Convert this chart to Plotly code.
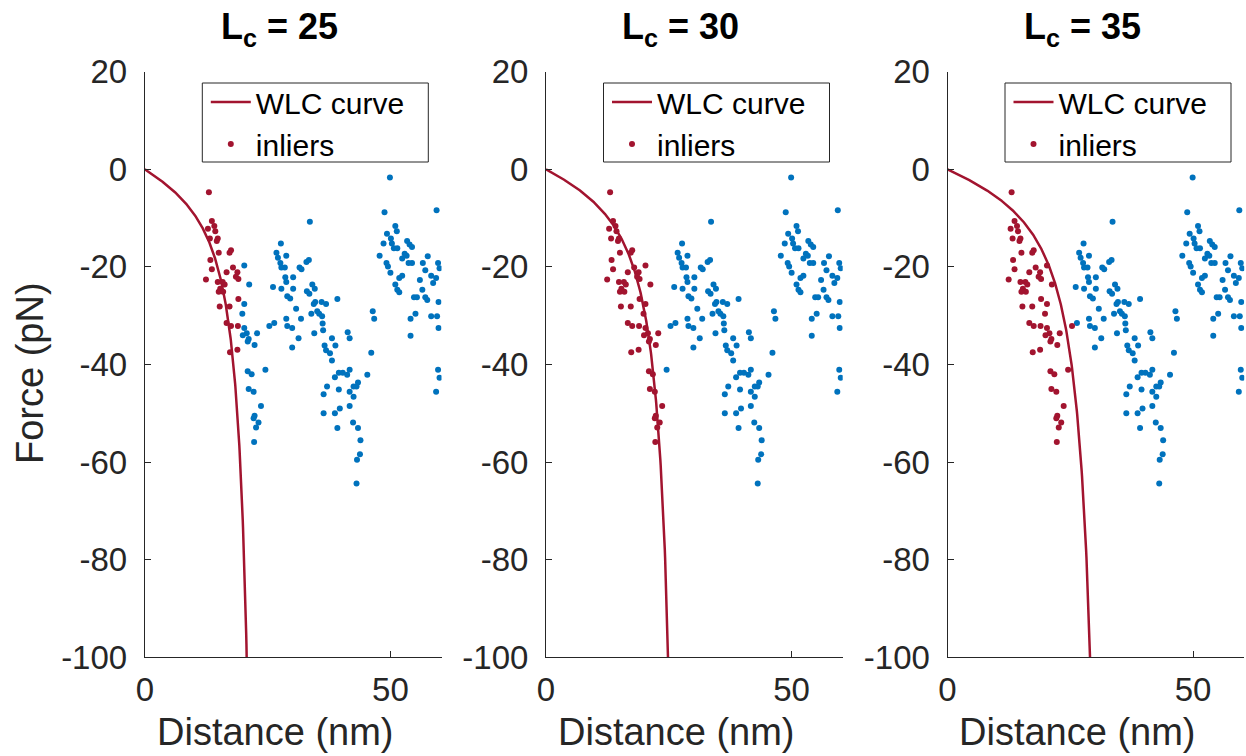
import numpy as np
import plotly.graph_objects as go

# ---------------- data ----------------
contour_lengths = [25, 30, 35]          # L_c per panel (nm)
inlier_cutoff = [19.5, 24.2, 25.7]      # distance below which points are inliers, per panel
persistence_length = 0.38               # nm (WLC model parameter)
kT = 4.11                               # pN nm

dist = [
    13.05, 13.65, 14.15, 12.85, 14.35, 13.25, 14.85, 14.65, 15.05, 17.25, 17.55, 13.35,
    20.25, 17.95, 13.65, 16.65, 18.85, 18.55, 19.05, 12.45, 14.85, 15.85, 16.25, 21.25,
    15.35, 15.05, 15.95, 19.05, 20.25, 15.25, 17.25, 19.85, 16.65, 17.55, 18.95, 25.35,
    20.25, 20.75, 22.85, 19.95, 21.15, 20.95, 22.35, 18.85, 17.35, 24.55, 20.95, 21.75,
    21.15, 22.15, 23.65, 22.35, 22.15, 23.15, 22.65, 22.25,
    26.1, 26.35, 26.8, 27.1, 27.6, 27.8, 28.5, 27.7, 27.8,
    33.6, 28.8, 32.9, 33.4, 31.5, 31.9, 28.6, 30.2, 28.8, 30.2, 34.1, 34.6, 33.0, 33.5,
    29.0, 29.6, 34.4, 34.7, 36.0, 36.9, 39.2, 30.8, 35.1, 35.5, 36.1, 33.9, 28.8, 31.8,
    36.2, 29.0, 30.0, 36.3, 41.3,
    31.3, 30.0, 34.5, 38.1, 41.7, 36.6, 36.9, 37.7, 38.8, 38.1, 38.7, 39.5, 40.3, 41.2,
    41.7, 43.4, 42.5, 43.1, 37.1, 36.4, 39.5, 41.7, 42.5, 39.7, 38.7, 36.4, 41.7, 39.2,
    42.4, 43.4, 43.9, 43.8, 43.2, 43.1,
    54.1, 46.1, 45.3, 59.7, 60.0, 59.3,
    49.9, 48.8, 59.4, 51.0, 51.3, 49.3, 50.1, 50.3, 48.6, 50.7, 51.4, 53.4, 53.9, 54.4,
    52.9, 53.3, 52.4, 47.8, 57.6, 49.2, 49.5, 53.7, 54.4, 56.6, 59.7, 60.0, 57.1, 50.0,
    52.4, 51.8, 58.3, 59.3, 58.7, 56.0, 51.0, 51.4, 51.8, 56.5, 54.8, 55.4, 57.1, 57.5,
    59.8, 46.4, 46.7, 55.1, 54.1, 58.3, 59.5, 59.8,
]
force = [
    -4.7, -10.6, -11.6, -12.2, -12.7, -14.2, -14.2, -14.7, -17.1, -17.1, -16.6, -18.6,
    -19.7, -20.1, -20.5, -21.1, -21.1, -22.0, -22.5, -22.6, -23.1, -23.1, -23.6, -23.6,
    -24.5, -25.1, -25.1, -26.6, -27.6, -28.1, -28.1, -29.6, -31.5, -32.1, -32.1, -32.1,
    -32.5, -33.6, -33.6, -34.0, -34.8, -35.3, -36.0, -37.0, -37.5, -41.1, -41.4, -42.0,
    -45.0, -45.6, -48.5, -50.5, -51.0, -51.9, -52.9, -55.9,
    -24.1, -31.5, -17.1, -18.1, -19.2, -20.1, -20.1, -15.2, -24.5,
    -10.75, -17.7, -19.0, -18.6, -20.1, -20.5, -22.1, -22.1, -23.1, -24.5, -23.6, -24.5, -25.0, -25.5,
    -26.0, -26.5, -27.6, -27.2, -27.2, -27.6, -26.6, -28.6, -29.1, -29.6, -30.1, -29.6, -30.6, -30.6,
    -31.6, -32.1, -32.5, -33.0, -33.4,
    -34.6, -36.5, -33.6, -34.6, -34.6, -36.1, -37.1, -37.7, -36.1, -39.2, -42.6, -41.7, -41.7, -42.1,
    -41.1, -43.7, -44.5, -44.5, -44.5, -46.1, -45.1, -45.6, -46.6, -49.0, -50.0, -50.0, -48.5, -53.0,
    -51.9, -53.0, -55.5, -58.4, -59.5, -64.4,
    -34.1, -37.6, -42.1, -41.1, -42.7, -45.6,
    -1.7, -8.8, -8.4, -11.6, -12.7, -13.2, -14.2, -15.2, -15.2, -16.2, -16.2, -14.7, -15.4, -15.9,
    -17.3, -17.7, -18.3, -17.7, -17.8, -19.2, -19.9, -19.2, -19.2, -19.2, -19.2, -20.3, -20.7, -21.2,
    -21.8, -22.3, -21.8, -22.3, -23.3, -22.7, -23.6, -24.7, -25.2, -24.7, -26.2, -26.2, -26.2, -26.8,
    -27.2, -29.1, -30.6, -29.6, -30.6, -30.1, -30.1, -32.5,
]

y_tickvals = [20, 0, -20, -40, -60, -80, -100]
y_ticktext = ["20", "0", "-20", "-40", "-60", "-80", "-100"]
x_tickvals = [0, 50]
x_ticktext = ["0", "50"]

RED = "#A2142F"
BLUE = "#0072BD"
INK = "#262626"
FONT = "Liberation Sans, Arial, sans-serif"

W, H = 1246, 756
x_left_px = [144.8, 546.0, 947.5]
panel_w_px = 296.7
y_top_px, y_bot_px = 71.7, 657.3
title_cx_px = [279, 680, 1082]
xlabel_cx_px = [275, 676, 1077]
leg_box = (57.5, 283.5, 83, 162)   # legend frame: left/right offset from axis x0, top, bottom (px)
leg_text_dx = 61                    # legend anchor offset from axis x0 (px)


def px_x(p):
    return p / W


def px_y(p):
    return 1 - p / H


dist_a = np.array(dist)
force_a = np.array(force)

fig = go.Figure()
layout = dict(
    width=W, height=H, margin=dict(l=0, r=0, t=0, b=0, autoexpand=False),
    paper_bgcolor="white", plot_bgcolor="white",
    font=dict(family=FONT, color=INK, size=33),
    annotations=[], shapes=[],
)

for i, Lc in enumerate(contour_lengths):
    n = "" if i == 0 else str(i + 1)
    xa, ya = "x" + n, "y" + n
    leg = "legend" + n
    # WLC model curve (Marko-Siggia interpolation formula)
    rel = np.linspace(0, 0.86, 400)
    wlc_x = rel * Lc
    wlc_f = -(kT / persistence_length) * (1.0 / (4 * (1 - rel) ** 2) - 0.25 + rel)

    inl = dist_a < inlier_cutoff[i]
    fig.add_trace(go.Scatter(
        x=dist_a[~inl], y=force_a[~inl], mode="markers", xaxis=xa, yaxis=ya,
        marker=dict(color=BLUE, size=6), showlegend=False, hoverinfo="skip"))
    fig.add_trace(go.Scatter(
        x=wlc_x, y=wlc_f, mode="lines", xaxis=xa, yaxis=ya, name="WLC curve",
        line=dict(color=RED, width=2.5), legend=leg))
    fig.add_trace(go.Scatter(
        x=dist_a[inl], y=force_a[inl], mode="markers", xaxis=xa, yaxis=ya, name="inliers",
        marker=dict(color=RED, size=6), legend=leg))

    x0p = x_left_px[i]
    layout["xaxis" + n] = dict(
        domain=[px_x(x0p), min(px_x(x0p + panel_w_px), 1.0)], range=[0, 60.4], anchor=ya,
        tickvals=x_tickvals, ticktext=x_ticktext, ticks="inside", ticklen=6,
        tickcolor=INK, showline=True, linecolor=INK, linewidth=1, automargin=False,
        showgrid=False, zeroline=False, ticklabelstandoff=3,
        tickfont=dict(size=33, family=FONT, color=INK))
    layout["yaxis" + n] = dict(
        domain=[px_y(y_bot_px), px_y(y_top_px)], range=[-100, 20], anchor=xa,
        tickvals=y_tickvals, ticktext=y_ticktext, ticks="inside", ticklen=6,
        tickcolor=INK, showline=True, linecolor=INK, linewidth=1, automargin=False,
        showgrid=False, zeroline=False, ticklabelstandoff=10,
        tickfont=dict(size=33, family=FONT, color=INK))
    # legend frame
    layout["shapes"].append(dict(
        type="rect", xref="paper", yref="paper", layer="above",
        x0=px_x(x0p + leg_box[0]), x1=px_x(x0p + leg_box[1]),
        y0=px_y(leg_box[3]), y1=px_y(leg_box[2]),
        line=dict(color=INK, width=1), fillcolor="white"))
    layout[leg] = dict(
        x=px_x(x0p + leg_text_dx), y=px_y(76), xanchor="left", yanchor="top",
        xref="paper", yref="paper", bgcolor="rgba(0,0,0,0)", borderwidth=0,
        font=dict(size=30, family=FONT, color="#000000"), tracegroupgap=0,
        itemwidth=40)
    layout["annotations"].append(dict(
        text=f"<b>L<sub>c</sub> = {Lc}</b>", x=px_x(title_cx_px[i]), y=px_y(29),
        xref="paper", yref="paper", xanchor="center", yanchor="middle",
        showarrow=False, font=dict(size=36, family=FONT, color="#000000")))
    layout["annotations"].append(dict(
        text="Distance (nm)", x=px_x(xlabel_cx_px[i]), y=px_y(732),
        xref="paper", yref="paper", xanchor="center", yanchor="middle",
        showarrow=False, font=dict(size=38, family=FONT, color=INK)))

layout["annotations"].append(dict(
    text="Force (pN)", x=px_x(30), y=px_y(373), xref="paper", yref="paper",
    xanchor="center", yanchor="middle", textangle=-90, showarrow=False,
    font=dict(size=38, family=FONT, color=INK)))

fig.update_layout(**layout)
fig.write_html("out.html")
